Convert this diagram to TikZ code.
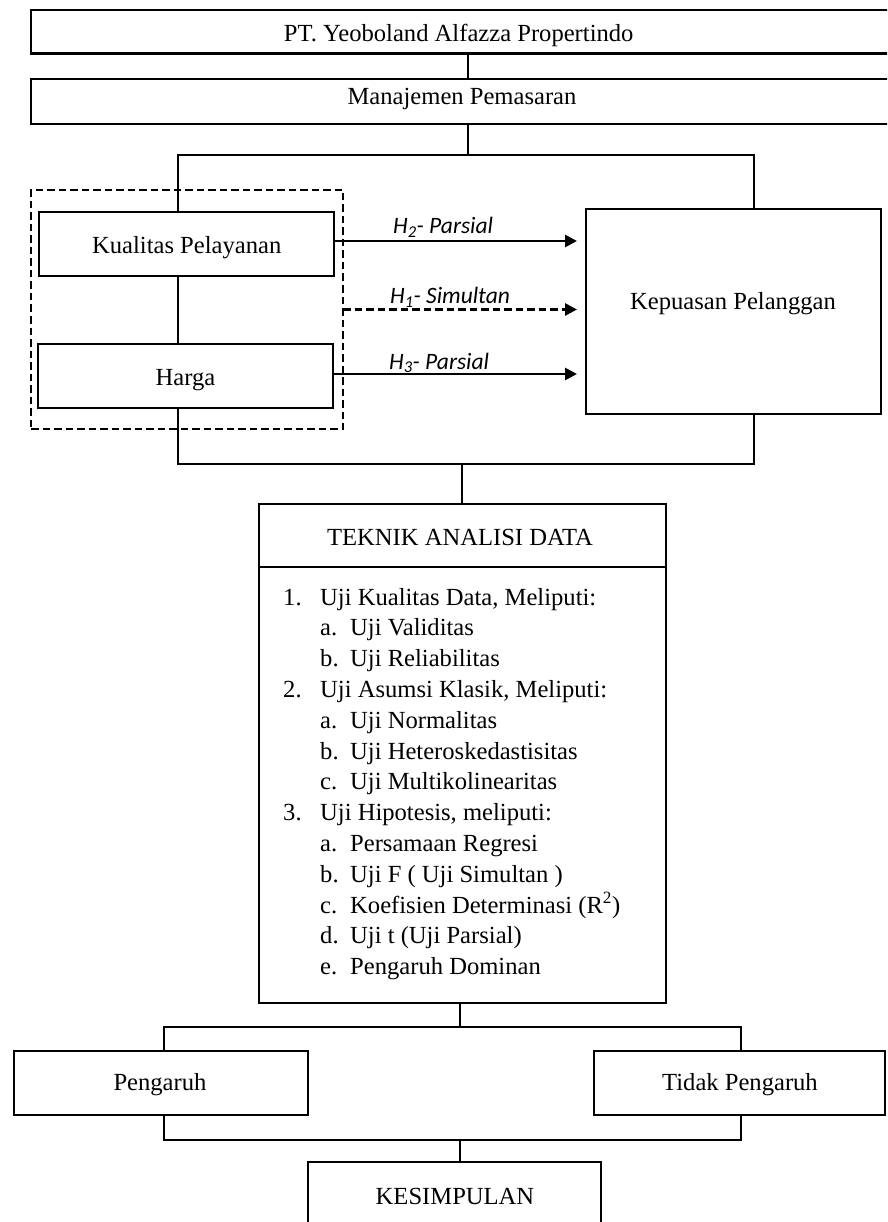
\documentclass[tikz,border=0pt]{standalone}
\usepackage{fontspec}
\setmainfont{Liberation Serif}
\newfontfamily\labfont{Carlito}
\usetikzlibrary{arrows.meta}
\newcommand\mkbox[6][]{\node[box,#1,minimum width={#5-#3},minimum height={#6-#4}] (#2) at ({(#3+#5)/2},{(#4+#6)/2}) {};}
\begin{document}
\begin{tikzpicture}[x=1pt,y=-1pt,
 ln/.style={line width=2.9pt},
 box/.style={draw,line width=2.9pt,inner sep=0pt,outer sep=0pt,rectangle},
 txt/.style={font=\fontsize{24.6}{29}\selectfont,anchor=base,inner sep=0pt},
 lst/.style={font=\fontsize{24.6}{29}\selectfont,anchor=base west,inner sep=0pt},
 lab/.style={font=\labfont\itshape\fontsize{23.5}{28}\selectfont,anchor=base west,inner sep=0pt},
 arr/.style={line width=2.7pt,-{Triangle[length=12pt,width=12pt]},shorten >=9pt},
 dsh/.style={dash pattern=on 7.5pt off 4pt}]
\useasboundingbox (0,0) rectangle (887,1222);
\clip (0,0) rectangle (887,1222);
\fill[white] (0,0) rectangle (887,1222);

% boxes
\mkbox[dsh]{dbox}{31}{190}{343}{429}
\mkbox{pt}{31}{10}{920}{53.5}
\mkbox{mg}{31}{79}{920}{124}
\mkbox{kual}{39}{212}{334}{276}
\mkbox{harga}{38}{344}{333}{408}
\mkbox{kep}{586}{209}{881}{414}
\mkbox{tek}{259}{504}{666}{1003}
\mkbox{pen}{14}{1051}{308}{1115}
\mkbox{tid}{594}{1051}{885}{1115}
\mkbox{kes}{308}{1162}{601}{1262}

% texts
\node[txt] (pt-t) at (458.7,41.5) {PT. Yeoboland Alfazza Propertindo};
\node[txt] (mg-t) at (462,105) {Manajemen Pemasaran};
\node[txt] (kual-t) at (186.7,254) {Kualitas Pelayanan};
\node[txt] (harga-t) at (185.5,385.5) {Harga};
\node[txt] (kep-t) at (733,309) {Kepuasan Pelanggan};
\node[txt] (tek-t) at (460,545) {TEKNIK ANALISI DATA};
\node[txt] (pen-t) at (160,1090) {Pengaruh};
\node[txt] (tid-t) at (740,1090) {Tidak Pengaruh};
\node[txt] (kes-t) at (455,1204) {KESIMPULAN};

% coordinates for buses
\coordinate (xa) at (468,0);
\coordinate (b1l) at (178,155);
\coordinate (b1r) at (754,155);
\coordinate (b2l) at (178,464);
\coordinate (b2r) at (754,464);
\coordinate (xb) at (462,0);
\coordinate (dv) at (0,567);
\coordinate (xc) at (460,0);
\coordinate (b3l) at (164,1027);
\coordinate (b3r) at (741,1027);
\coordinate (b4l) at (164,1140);
\coordinate (b4r) at (741,1140);

% connectors
\draw[ln] (pt.south -| xa) -- (mg.north -| xa);
\draw[ln] (mg.south -| xa) -- (xa |- b1l);
\draw[ln] (kual.north -| b1l) -- (b1l) -- (b1r) -- (kep.north -| b1r);
\draw[ln] (kual.south -| b1l) -- (harga.north -| b1l);
\draw[ln] (harga.south -| b2l) -- (b2l) -- (b2r) -- (kep.south -| b2r);
\draw[ln] (xb |- b2l) -- (tek.north -| xb);
\draw[ln] (tek.west |- dv) -- (tek.east |- dv);
\draw[ln] (tek.south -| xc) -- (xc |- b3l);
\draw[ln] (pen.north -| b3l) -- (b3l) -- (b3r) -- (tid.north -| b3r);
\draw[ln] (pen.south -| b4l) -- (b4l) -- (b4r) -- (tid.south -| b4r);
\draw[ln] (xc |- b4l) -- (kes.north -| xc);

% arrows
\coordinate (s2) at ([yshift=3pt]kual.east);
\coordinate (s3) at ([yshift=2pt]harga.east);
\draw[arr] (s2) -- (kep.west |- s2);
\draw[arr,dsh] (dbox.east) -- (kep.west |- dbox.east);
\draw[arr] (s3) -- (kep.west |- s3);

\node[lab] (h2) at (393,234) {H\textsubscript{2}- Parsial};
\node[lab] (h1) at (390,304) {H\textsubscript{1}- Simultan};
\node[lab] (h3) at (389,369) {H\textsubscript{3}- Parsial};

% list
\node[lst] (n1) at (283,605) {1.};
\node[lst] (l1) at (320,605) {Uji Kualitas Data, Meliputi:};
\node[lst] (a1) at (320,635.8) {a.};
\node[lst] (l2) at (350,635.8) {Uji Validitas};
\node[lst] (b1) at (320,666.6) {b.};
\node[lst] (l3) at (350,666.6) {Uji Reliabilitas};
\node[lst] (n2) at (283,697.4) {2.};
\node[lst] (l4) at (320,697.4) {Uji Asumsi Klasik, Meliputi:};
\node[lst] (a2) at (320,728.2) {a.};
\node[lst] (l5) at (350,728.2) {Uji Normalitas};
\node[lst] (b2) at (320,759) {b.};
\node[lst] (l6) at (350,759) {Uji Heteroskedastisitas};
\node[lst] (c2) at (320,789.8) {c.};
\node[lst] (l7) at (350,789.8) {Uji Multikolinearitas};
\node[lst] (n3) at (283,820.6) {3.};
\node[lst] (l8) at (320,820.6) {Uji Hipotesis, meliputi:};
\node[lst] (a3) at (320,851.4) {a.};
\node[lst] (l9) at (350,851.4) {Persamaan Regresi};
\node[lst] (b3) at (320,882.2) {b.};
\node[lst] (l10) at (350,882.2) {Uji F ( Uji Simultan )};
\node[lst] (c3) at (320,913) {c.};
\node[lst] (l11) at (350,913) {Koefisien Determinasi (R\textsuperscript{2})};
\node[lst] (d3) at (320,943.8) {d.};
\node[lst] (l12) at (350,943.8) {Uji t (Uji Parsial)};
\node[lst] (e3) at (320,974.6) {e.};
\node[lst] (l13) at (350,974.6) {Pengaruh Dominan};
\end{tikzpicture}
\end{document}
